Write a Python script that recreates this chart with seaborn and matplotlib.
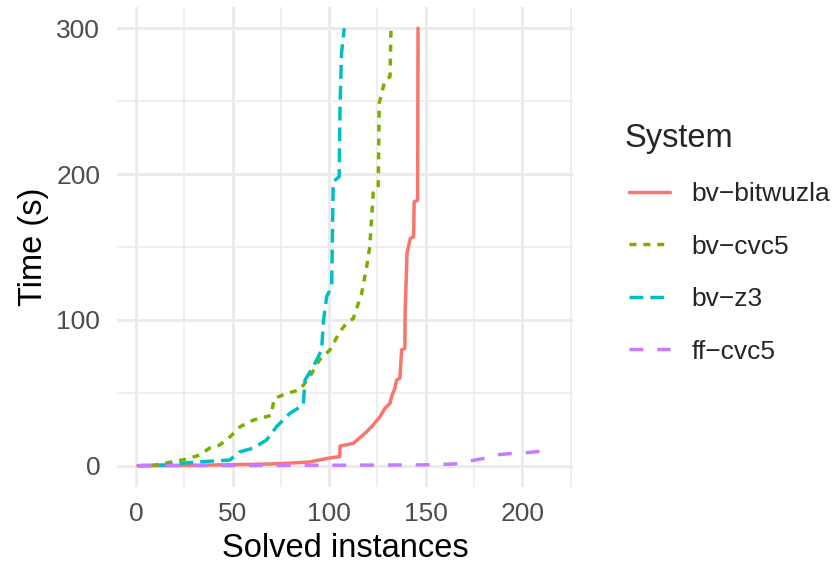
import numpy as np
import pandas as pd
import matplotlib
matplotlib.use("Agg")
import matplotlib.pyplot as plt
from matplotlib.lines import Line2D
from matplotlib.ticker import MultipleLocator
import seaborn as sns

# --- data (solved instances vs time) ---
systems = ["bv\u2212bitwuzla", "bv\u2212cvc5", "bv\u2212z3", "ff\u2212cvc5"]
colors = ["#F8766D", "#7CAE00", "#00BFC4", "#C77CFF"]
dashes = ["", (2, 2), (4, 2), (4, 4)]

x_bitwuzla = [1, 30, 50, 70, 80, 90, 98.7, 105.5, 105.6, 112.5, 119.4, 122.8, 126.3,
              128.9, 131.5, 132.3, 134, 134.9, 136.6, 137.5, 139.2, 139.3, 140.3, 142,
              143.7, 144, 145.8, 146]
t_bitwuzla = [0, 0.3, 0.7, 1.2, 1.8, 2.6, 5, 6.2, 13.5, 15.3, 23.3, 28, 33.6,
              39.4, 42.8, 47.3, 53, 58.8, 60, 79.4, 80.5, 104.5, 145.7, 156,
              157, 181, 182, 300]

x_cvc5 = [1, 10, 19, 26, 33, 38, 43, 47, 54, 61, 67.6, 70, 71.5, 78, 84.8, 90, 95,
          100.4, 105.6, 109, 112.5, 116.8, 119.4, 121, 122.8, 125.4, 125.9, 128.9,
          131.5, 132]
t_cvc5 = [0, 0.5, 2.7, 4.5, 7.3, 12, 14, 17.6, 26.8, 31.4, 33.7, 34.5, 46, 49.6, 52,
          61, 72.6, 79.4, 92, 97.8, 101, 118, 136.5, 150, 187, 190, 248.5, 264.5,
          266.8, 300]

x_z3 = [1, 15, 23, 33, 48.6, 53.8, 60.7, 67.6, 72.8, 79.7, 86.6, 87.5, 91.8, 96.1,
        97, 98.7, 101.3, 102.1, 105.2, 105.6, 106.4, 107.8]
t_z3 = [0, 0.5, 1.6, 2.7, 3.9, 9.6, 12, 17.6, 26.8, 36, 41.6, 58.8, 68, 79.4,
        98.8, 116, 122.8, 194.8, 198.2, 245, 282.8, 300]

x_ff = [1, 50, 100, 150, 165, 172, 180, 187, 195, 203, 213]
t_ff = [0, 0.1, 0.3, 0.6, 1.2, 3, 5, 7.5, 8.5, 9, 10.5]

frames = []
for name, xs, ts in zip(systems, [x_bitwuzla, x_cvc5, x_z3, x_ff],
                        [t_bitwuzla, t_cvc5, t_z3, t_ff]):
    frames.append(pd.DataFrame({"Solved": xs, "Time": ts, "System": name}))
df = pd.concat(frames, ignore_index=True)

# --- plot ---
sns.set_theme(style="white")
plt.rcParams["font.family"] = ["Liberation Sans", "DejaVu Sans"]

fig = plt.figure(figsize=(8.38, 5.66), dpi=100)
ax = fig.add_axes([117 / 838, 1 - 487 / 566, (573 - 117) / 838, (487 - 7) / 566])

lw = 2.5
sns.lineplot(data=df, x="Solved", y="Time", hue="System", style="System",
             palette=dict(zip(systems, colors)), dashes=dict(zip(systems, dashes)),
             estimator=None, linewidth=lw, legend=False, ax=ax)

ax.set_xlim(-9.8, 226.2)
ax.set_ylim(-14.6, 314.6)
ax.xaxis.set_major_locator(MultipleLocator(50))
ax.xaxis.set_minor_locator(MultipleLocator(25))
ax.yaxis.set_major_locator(MultipleLocator(100))
ax.yaxis.set_minor_locator(MultipleLocator(50))
ax.grid(which="major", color="#EBEBEB", linewidth=2.1)
ax.grid(which="minor", color="#EBEBEB", linewidth=1.1)
ax.set_axisbelow(True)
for s in ax.spines.values():
    s.set_visible(False)
ax.tick_params(which="both", length=0, labelsize=19, labelcolor="#4D4D4D")
ax.tick_params(axis="y", pad=12)
ax.tick_params(axis="x", pad=11)
ax.set_xlabel("Solved instances", fontsize=23.5, color="black", labelpad=5)
ax.set_ylabel("Time (s)", fontsize=23.5, color="black", labelpad=5)

handles = []
for c, d in zip(colors, dashes):
    h = Line2D([], [], color=c, linewidth=lw, linestyle="-" if d == "" else "--")
    if d:
        h.set_dashes(d)
    handles.append(h)

# legend title placed by hand, entries below it
fig.text(625 / 838, 1 - 138 / 566, "System", fontsize=23.5, ha="left", va="center")
leg = ax.legend(handles, systems, loc="upper left",
                bbox_to_anchor=(629 / 838, 1 - 182 / 566), bbox_transform=fig.transFigure,
                frameon=False, fontsize=19, borderpad=0, borderaxespad=0,
                handlelength=1.55, handletextpad=0.83, labelspacing=1.08)

fig.savefig("out.png", dpi=100)
